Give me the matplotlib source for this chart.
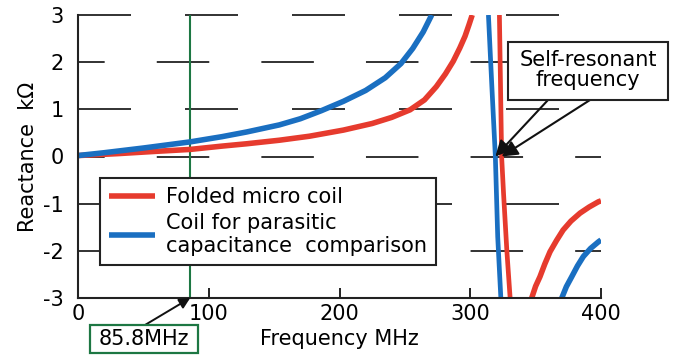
import matplotlib
matplotlib.use("Agg")
import matplotlib.pyplot as plt
from matplotlib.patches import Rectangle

plt.rcParams['font.family'] = ['DejaVu Sans']
plt.rcParams['lines.scale_dashes'] = False

# ---- data (MHz, kOhm) ----
red_f1 = [0, 30, 60, 85.8, 110, 129, 154, 177, 203, 225, 240, 254, 265, 274, 281, 287, 292, 296, 299, 301.5]
red_x1 = [0.02, 0.06, 0.11, 0.15, 0.22, 0.27, 0.345, 0.43, 0.56, 0.70, 0.83, 0.99, 1.20, 1.48, 1.75, 2.02, 2.30, 2.55, 2.79, 3.0]
red_f2 = [322.3, 324.0, 325.5, 328.0, 330.5]
red_x2 = [3.0, 0.0, -0.8, -2.0, -3.0]
red_f3 = [347, 350, 353.3, 357, 361, 366, 371, 377, 384, 391, 398, 400]
red_x3 = [-3.0, -2.75, -2.55, -2.28, -2.02, -1.78, -1.56, -1.37, -1.20, -1.07, -0.96, -0.94]

blue_f1 = [0, 20, 50, 85.8, 110, 129, 154, 170, 186, 203, 220, 235, 247, 256, 264, 270.5]
blue_x1 = [0.02, 0.08, 0.18, 0.31, 0.42, 0.52, 0.67, 0.80, 0.97, 1.17, 1.40, 1.67, 1.97, 2.29, 2.64, 3.0]
blue_f2 = [313.9, 316.5, 319.2, 321.0, 323.4]
blue_x2 = [3.0, 1.5, 0.0, -1.7, -3.0]
blue_f3 = [370, 373.5, 377.6, 382, 386.5, 392, 398, 400]
blue_x3 = [-3.0, -2.76, -2.55, -2.32, -2.12, -1.95, -1.81, -1.77]

marker_freq = 85.8
srf_blue = 319.2
srf_red = 324.0

labels = ["Folded micro coil", "Coil for parasitic\ncapacitance  comparison"]
xticks = [0, 100, 200, 300, 400]
yticks = [-3, -2, -1, 0, 1, 2, 3]

RED = '#e63b2e'
BLUE = '#1a6fc1'
GREEN = '#1d7743'
FS = 15

W, H = 674, 356
fig = plt.figure(figsize=(W / 100, H / 100), dpi=100)
ax = fig.add_axes([78 / W, 58 / H, 523 / W, 283 / H])
ax.set_xlim(0, 400)
ax.set_ylim(-3, 3)

# dashed horizontal grid (two alternating dash phases)
pat_a = (0, (53 * 0.72, 54 * 0.72))
pat_b = (18.6, (52.5 * 0.72, 52.1 * 0.72))
for y in [3, 1, -1]:
    ax.axhline(y, color='#222222', lw=1.3, linestyle=pat_a, zorder=1, clip_on=False)
for y in [2, 0, -2]:
    ax.axhline(y, color='#222222', lw=1.3, linestyle=pat_b, zorder=1)

ax.axvline(marker_freq, color=GREEN, lw=1.5, zorder=2)

lw = 4.0
l_red, = ax.plot(red_f1, red_x1, color=RED, lw=lw, zorder=3, solid_capstyle='butt')
ax.plot(red_f2, red_x2, color=RED, lw=lw * 0.85, zorder=3, solid_capstyle='butt')
ax.plot(red_f3, red_x3, color=RED, lw=lw, zorder=3, solid_capstyle='butt')
l_blue, = ax.plot(blue_f1, blue_x1, color=BLUE, lw=lw, zorder=3.1, solid_capstyle='butt')
ax.plot(blue_f2, blue_x2, color=BLUE, lw=lw * 0.85, zorder=3.1, solid_capstyle='butt')
ax.plot(blue_f3, blue_x3, color=BLUE, lw=lw, zorder=3.1, solid_capstyle='butt')

for s in ['top', 'right']:
    ax.spines[s].set_visible(False)
for s in ['left', 'bottom']:
    ax.spines[s].set_linewidth(1.5)
    ax.spines[s].set_color('#222222')
    ax.spines[s].set_zorder(4)

ax.set_xticks(xticks)
ax.set_yticks(yticks)
ax.set_yticklabels([str(v) for v in yticks])
ax.tick_params(axis='x', direction='in', length=7, width=1.4, pad=4, labelsize=FS, color='#222222')
ax.tick_params(axis='y', length=0, pad=10, labelsize=FS)

ax.set_xlabel("Frequency MHz", fontsize=FS)
ax.set_ylabel("Reactance  kΩ", fontsize=FS)
ax.xaxis.set_label_coords(0.5, -0.11)
ax.yaxis.set_label_coords(-0.077, 0.5)

leg = ax.legend([l_red, l_blue], labels, loc='upper left',
                bbox_to_anchor=(100 / W, 1 - 178 / H), bbox_transform=fig.transFigure,
                borderaxespad=0, frameon=True, fancybox=False, framealpha=1,
                edgecolor='#222222', fontsize=FS, handlelength=2.2, handletextpad=0.5,
                borderpad=0.45, labelspacing=0.25)
leg.get_frame().set_linewidth(1.5)
leg.set_zorder(6)

# 85.8 MHz annotation
fig.patches.append(Rectangle((90 / W, 1 - 353 / H), 108 / W, 28 / H, transform=fig.transFigure,
                             fc='white', ec=GREEN, lw=1.6, zorder=5))
fig.text(144 / W, 1 - 339 / H, "85.8MHz", ha='center', va='center', fontsize=FS, zorder=7)
ax.annotate("", xy=(marker_freq, -3), xycoords='data',
            xytext=(145 / W, 1 - 325 / H), textcoords='figure fraction',
            annotation_clip=False, zorder=7,
            arrowprops=dict(arrowstyle='-|>', color='#111111', lw=1.4, mutation_scale=16,
                            shrinkA=0, shrinkB=0))

# Self-resonant frequency annotation
fig.patches.append(Rectangle((508 / W, 1 - 100 / H), 160 / W, 58 / H, transform=fig.transFigure,
                             fc='white', ec='#222222', lw=1.5, zorder=5))
fig.text(588 / W, 1 - 70 / H, "Self-resonant\nfrequency",
         ha='center', va='center', fontsize=FS, linespacing=1.05, zorder=7)
for (sx, sy), tx in [((548, 100), srf_blue), ((590, 100), srf_red)]:
    ax.annotate("", xy=(tx, 0), xycoords='data',
                xytext=(sx / W, 1 - sy / H), textcoords='figure fraction',
                annotation_clip=False, zorder=7,
                arrowprops=dict(arrowstyle='-|>', color='#111111', lw=1.5, mutation_scale=24,
                                shrinkA=0, shrinkB=0))

fig.savefig("out.png", dpi=100)
